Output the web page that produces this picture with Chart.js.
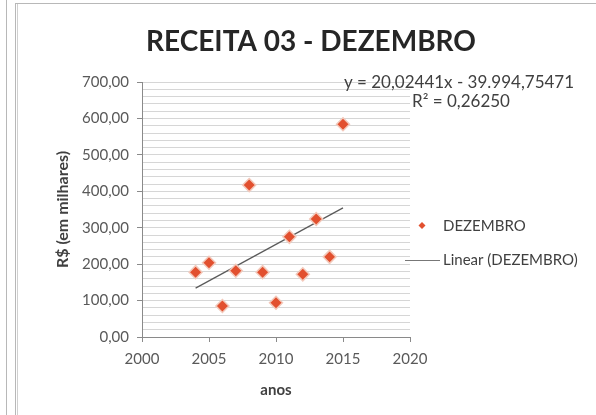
<!DOCTYPE html>
<html>
<head>
<meta charset="utf-8">
<script src="https://cdn.jsdelivr.net/npm/chart.js@4.4.0/dist/chart.umd.min.js"></script>
<style>
  body { margin: 0; background: #fff; }
  #wrap { position: relative; width: 596px; height: 415px; overflow: hidden; }
  #wrap canvas { position: absolute; left: 0; top: 0; }
  .ln { position: absolute; background: #b8b8b8; }
</style>
</head>
<body>
<div id="wrap">
  <canvas id="myChart" width="596" height="415"></canvas>
  <div class="ln" style="left:6px;top:0;width:1px;height:415px"></div>
  <div class="ln" style="left:15px;top:3px;width:1px;height:412px"></div>
  <div class="ln" style="left:17px;top:3px;width:1px;height:412px;background:#d0d0d0"></div>
  <div class="ln" style="left:15px;top:3px;width:581px;height:1px"></div>
</div>
<script>
// dados
const anos = [2004, 2005, 2006, 2007, 2008, 2009, 2010, 2011, 2012, 2013, 2014, 2015];
const dezembro = [178, 204, 85, 182, 417, 178, 94, 275, 172, 324, 220, 584];
const anosTicks = [2000, 2005, 2010, 2015, 2020];
const valoresTicks = [0, 100, 200, 300, 400, 500, 600, 700];
// linha de tendencia (do Excel)
const coefA = 20.02441;
const coefB = -39994.75471;
const r2 = '0,26250';

const fonte = 'Lato, "Open Sans", sans-serif';
const cinza = '#595959';

const pontos = anos.map((a, i) => ({ x: a, y: dezembro[i] }));
const xIni = anos[0], xFim = anos[anos.length - 1];
const tendencia = [
  { x: xIni, y: coefA * xIni + coefB },
  { x: xFim, y: coefA * xFim + coefB }
];

const fmt = v => v.toFixed(2).replace('.', ',');

// titulo, equacao e legenda
const extras = {
  id: 'extras',
  afterDraw(chart) {
    const c = chart.ctx;
    c.save();
    c.fillStyle = '#262626';
    c.font = 'bold 28px ' + fonte;
    c.textAlign = 'center';
    c.textBaseline = 'middle';
    c.fillText('RECEITA 03 - DEZEMBRO', 311, 42);

    c.fillStyle = '#404040';
    c.font = '17px ' + fonte;
    c.fillText('y = 20,02441x - 39.994,75471', 459, 83);
    c.fillText('R\u00B2 = ' + r2, 461, 102);

    // legenda
    c.textAlign = 'left';
    c.font = '15px ' + fonte;
    c.fillStyle = '#E2502F';
    c.beginPath();
    c.moveTo(422, 222); c.lineTo(425.5, 225.5); c.lineTo(422, 229); c.lineTo(418.5, 225.5);
    c.closePath(); c.fill();
    c.fillStyle = '#404040';
    c.fillText('DEZEMBRO', 443, 226);
    c.strokeStyle = '#777';
    c.lineWidth = 1;
    c.beginPath(); c.moveTo(405, 260.5); c.lineTo(440, 260.5); c.stroke();
    c.fillText('Linear (DEZEMBRO)', 443, 260);
    c.restore();
  }
};

const ctx = document.getElementById('myChart');
const myChart = new Chart(ctx, {
  type: 'scatter',
  data: {
    datasets: [
      {
        label: 'DEZEMBRO',
        data: pontos,
        pointStyle: 'rectRot',
        pointRadius: 6.5,
        pointHoverRadius: 6.5,
        backgroundColor: '#E2502F',
        borderColor: '#f3c9bb',
        borderWidth: 1.5
      },
      {
        label: 'Linear (DEZEMBRO)',
        type: 'line',
        data: tendencia,
        borderColor: '#5a5a5a',
        borderWidth: 1.2,
        pointRadius: 0,
        fill: false
      }
    ]
  },
  options: {
    responsive: false,
    animation: false,
    layout: { padding: { top: 82, right: 186, bottom: 0, left: 0 } },
    plugins: {
      legend: { display: false },
      tooltip: { enabled: false }
    },
    scales: {
      x: {
        type: 'linear',
        min: anosTicks[0],
        max: anosTicks[anosTicks.length - 1],
        afterBuildTicks: s => { s.ticks = anosTicks.map(v => ({ value: v })); },
        afterFit: s => { s.height = 78; },
        grid: { drawOnChartArea: false, tickLength: 5, tickColor: '#8a8a8a' },
        border: { color: '#8a8a8a' },
        ticks: {
          color: cinza,
          font: { family: fonte, size: 15 },
          padding: 8,
          callback: v => String(v)
        },
        title: {
          display: true,
          text: 'anos',
          color: '#404040',
          font: { family: fonte, size: 15, weight: 'bold' },
          padding: { top: 0, bottom: 16 }
        }
      },
      y: {
        min: valoresTicks[0],
        max: valoresTicks[valoresTicks.length - 1],
        afterBuildTicks: s => {
          const t = [];
          for (let v = valoresTicks[0]; v <= valoresTicks[valoresTicks.length - 1]; v += 20) t.push({ value: v });
          s.ticks = t;
        },
        afterFit: s => { s.width = 142; },
        grid: {
          color: '#d6d6d6',
          tickLength: 5,
          tickColor: c => (c.tick && c.tick.value % 100 === 0) ? '#8a8a8a' : 'rgba(0,0,0,0)'
        },
        border: { color: '#8a8a8a' },
        ticks: {
          autoSkip: false,
          color: cinza,
          font: { family: fonte, size: 15 },
          padding: 8,
          callback: v => (v % 100 === 0) ? fmt(v) : ''
        },
        title: {
          display: true,
          text: 'R$ (em milhares)',
          color: '#404040',
          font: { family: fonte, size: 16, weight: 'bold' },
          padding: { top: 53, bottom: 0 }
        }
      }
    }
  },
  plugins: [extras]
});
</script>
</body>
</html>
